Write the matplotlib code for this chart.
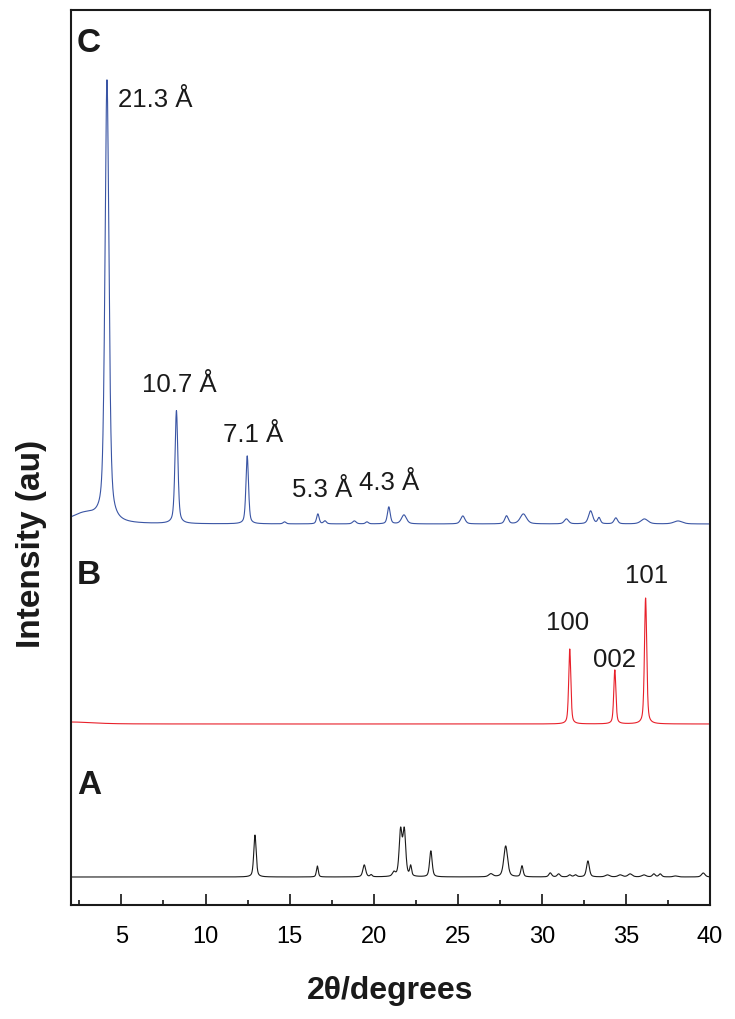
import matplotlib.pyplot as plt
import numpy as np

plt.rcParams['font.family'] = ['Liberation Sans', 'DejaVu Sans']

# peak tables: position (2theta), height (au), fwhm (deg)
c_pos = [2.8, 4.14, 8.27, 12.48, 14.7, 16.68, 17.1, 18.85, 19.6, 20.9, 21.8,
         25.3, 27.9, 28.9, 31.46, 32.9, 33.4, 34.4, 36.1, 38.1]
c_hgt = [10, 441, 113, 68, 2, 10, 3, 3, 2, 17, 9,
         8, 8, 10, 5, 13, 6, 6, 5, 3]
c_fwhm = [2.0, 0.28, 0.2, 0.18, 0.2, 0.18, 0.2, 0.25, 0.2, 0.2, 0.35,
          0.3, 0.25, 0.45, 0.3, 0.3, 0.2, 0.25, 0.5, 0.6]

b_pos = [2.0, 31.66, 34.34, 36.17]
b_hgt = [2, 75, 54, 126]
b_fwhm = [3.0, 0.15, 0.15, 0.16]

a_pos = [12.94, 16.65, 19.44, 19.85, 21.2, 21.6, 21.82, 22.2, 23.4, 26.97,
         27.85, 28.82, 30.5, 31.0, 31.66, 32.0, 32.74, 33.9, 34.66, 35.25,
         36.07, 36.66, 37.04, 37.94, 39.6]
a_hgt = [42, 11, 12, 2, 4, 45, 45, 10, 26, 3,
         31, 11, 4, 3, 2, 2, 16, 2, 2, 3,
         2, 3, 3, 1, 4]
a_fwhm = [0.17, 0.13, 0.2, 0.15, 0.2, 0.2, 0.2, 0.13, 0.18, 0.3,
          0.27, 0.16, 0.2, 0.2, 0.2, 0.2, 0.2, 0.3, 0.3, 0.3,
          0.3, 0.2, 0.2, 0.3, 0.25]

# baseline of each pattern (vertical offset, au)
offsets = {'A': 28, 'B': 181, 'C': 381}

c_labels = ['21.3 Å', '10.7 Å', '7.1 Å', '5.3 Å', '4.3 Å']
c_label_x = [4.8, 6.23, 11.05, 15.15, 19.14]
c_label_y = [798, 513, 463, 408, 415]

b_labels = ['100', '002', '101']
b_label_x = [30.27, 33.07, 34.92]
b_label_y = [275, 238, 322]


def profile(x, pos, hgt, fwhm, eta=0.5):
    y = np.zeros_like(x)
    for p, h, w in zip(pos, hgt, fwhm):
        g = np.exp(-4 * np.log(2) * ((x - p) / w) ** 2)
        l = 1 / (1 + (2 * (x - p) / w) ** 2)
        y += h * (eta * l + (1 - eta) * g)
    return y


x = np.linspace(2, 40, 4001)

fig = plt.figure(figsize=(7.35, 10.19), dpi=100)
ax = fig.add_axes([71 / 735, 1 - 905 / 1019, 639 / 735, 895 / 1019])

ax.plot(x, offsets['A'] + profile(x, a_pos, a_hgt, a_fwhm), color='#1a1a1a', lw=0.8)
ax.plot(x, offsets['B'] + profile(x, b_pos, b_hgt, b_fwhm), color='#e8202a', lw=0.8)
ax.plot(x, offsets['C'] + profile(x, c_pos, c_hgt, c_fwhm), color='#3a55a4', lw=0.8)

for t, tx, ty in zip(c_labels, c_label_x, c_label_y):
    ax.text(tx, ty, t, fontsize=18.5, ha='left', va='baseline', color='#1a1a1a')
for t, tx, ty in zip(b_labels, b_label_x, b_label_y):
    ax.text(tx, ty, t, fontsize=18.5, ha='left', va='baseline', color='#1a1a1a')

for t, ty in zip(['C', 'B', 'A'], [853, 321, 111]):
    ax.text(2.36, ty, t, fontsize=24, fontweight='bold', ha='left', va='baseline',
            color='#1a1a1a')

ax.set_xlim(2, 40)
ax.set_ylim(0, 895)
ax.set_xticks([5, 10, 15, 20, 25, 30, 35, 40])
ax.set_xticks(np.arange(2.5, 40, 5), minor=True)
ax.set_yticks([])
ax.tick_params(axis='x', which='major', direction='in', length=7.7, width=1.1,
               labelsize=17, pad=15, top=False)
ax.tick_params(axis='x', which='minor', direction='in', length=3.6, width=1.1, top=False)
for s in ax.spines.values():
    s.set_linewidth(1.5)
    s.set_color('#1a1a1a')

fig.text(390 / 735, 1 - 991 / 1019, '2θ/degrees', fontsize=23, fontweight='bold',
         ha='center', va='center', color='#1a1a1a')
fig.text(32 / 735, 1 - 544 / 1019, 'Intensity (au)', fontsize=24, fontweight='bold',
         ha='center', va='center', rotation=90, color='#1a1a1a')

fig.savefig('out.png', dpi=100)
